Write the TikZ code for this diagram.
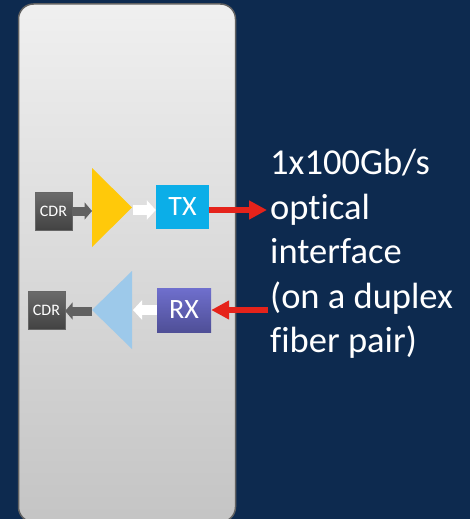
\documentclass[tikz,border=0pt]{standalone}
\usepackage{fontspec}
\setmainfont[Ligatures=CommonOff]{Carlito}
\usetikzlibrary{arrows.meta}
\definecolor{bgnavy}{HTML}{0D2A4F}
\definecolor{arrowred}{HTML}{E5231B}
\tikzset{
  x=1pt,y=-1pt,
  cdrbox/.style={rectangle,inner sep=0pt,minimum width=37pt,minimum height=38pt,top color=black!58,bottom color=black!74,draw=black!60,line width=0.3pt,text=white,font=\fontsize{16}{16}\selectfont},
  portbox/.style={rectangle,inner sep=0pt,minimum width=53pt,minimum height=44pt,text=white,font=\fontsize{28}{28}\selectfont},
  greyarrow/.style={line width=9pt,draw=black!62,-{Triangle[length=7.5pt,width=17pt]}},
  whitearrow/.style={line width=10pt,draw=white,-{Triangle[length=9pt,width=19pt]}},
  redarrow/.style={line width=6pt,draw=arrowred,-{Triangle[length=18pt,width=18pt]}},
}
\begin{document}
\begin{tikzpicture}
\useasboundingbox (0,0) rectangle (470,519);
\clip (0,0) rectangle (470,519);
\fill[bgnavy] (0,0) rectangle (470,519);
\shade[top color=black!6,bottom color=black!23,draw=black!62,line width=1.5pt,rounded corners=15pt] (18.5,4) rectangle (235.5,522);
% triangles
\fill[color={rgb,255:red,255;green,201;blue,10}] (92,168) -- (132,207.5) -- (92,247) -- cycle;
\fill[color={rgb,255:red,157;green,201;blue,234}] (132,271) -- (92,310) -- (132,349) -- cycle;
\coordinate (ampin) at (92,211);
\coordinate (ampout) at (132.5,210);
\coordinate (rxampin) at (133,310);
\coordinate (rxampout) at (92,311);
\coordinate (txfree) at (267,210);
\coordinate (rxfree) at (268,310);
% boxes
\node[cdrbox] (cdrtop) at (53.5,211) {CDR};
\node[cdrbox] (cdrbot) at (46.5,310) {CDR};
\node[portbox,fill={rgb,255:red,11;green,174;blue,232}] (tx) at (182.5,207) {TX};
\node[portbox,minimum width=54pt,top color={rgb,255:red,111;green,111;blue,205},bottom color={rgb,255:red,79;green,79;blue,151}] (rx) at (184,310) {RX};
% connectors
\draw[greyarrow] (cdrtop.east |- ampin) -- (ampin);
\draw[whitearrow] (ampout) -- (tx.west |- ampout);
\draw[redarrow] (tx.east |- txfree) -- (txfree);
\draw[redarrow] (rxfree) -- (rx.east |- rxfree);
\draw[whitearrow] (rx.west |- rxampin) -- (rxampin);
\draw[greyarrow] (rxampout) -- (cdrbot.east |- rxampout);
% label
\node[anchor=north west,inner sep=0pt,align=left,text=white,font=\fontsize{36.5}{44.5}\selectfont] (label) at (270,149) {1x100Gb/s\\optical\\interface\\(on a duplex\\fiber pair)};
\end{tikzpicture}
\end{document}
